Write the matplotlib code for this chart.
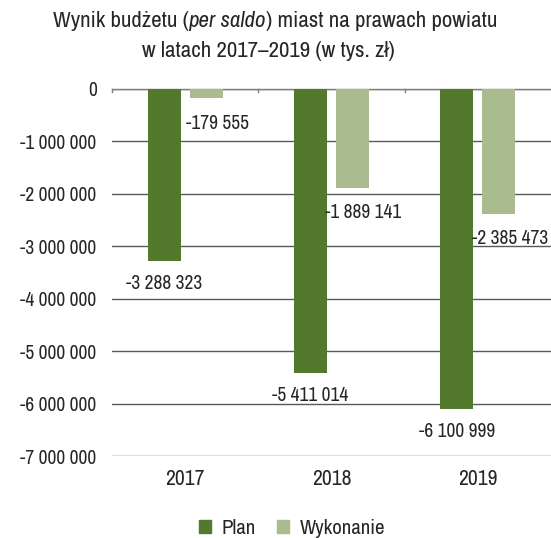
import matplotlib
matplotlib.use("Agg")
import matplotlib.pyplot as plt
from matplotlib.patches import Patch
from matplotlib.transforms import ScaledTranslation
import numpy as np

plt.rcParams['font.family'] = ['Archivo Narrow', 'Liberation Sans', 'DejaVu Sans']

years = ["2017", "2018", "2019"]
plan = [-3288323, -5411014, -6100999]
wykonanie = [-179555, -1889141, -2385473]
series_names = ["Plan", "Wykonanie"]
yticks = [0, -1000000, -2000000, -3000000, -4000000, -5000000, -6000000, -7000000]

c_plan = "#537a2c"
c_wyk = "#a9bb8f"
txt = "#262626"


def fmt(v):
    s = f"{abs(int(v)):,}".replace(",", " ")
    return ("-" if v < 0 else "") + s


W, H = 551, 538
fig = plt.figure(figsize=(W / 100, H / 100), dpi=100)
ax = fig.add_axes([112 / W, 1 - 456 / H, (551 - 112) / W, (456 - 89) / H])

x = np.arange(len(years))
bw = 0.225
off = 0.143
ax.bar(x - off, plan, bw, color=c_plan, zorder=3)
ax.bar(x + off, wykonanie, bw, color=c_wyk, zorder=3)

ax.set_xlim(-0.5, len(years) - 0.5)
ax.set_ylim(-7000000, 0)
ax.set_yticks(yticks)
ax.set_yticklabels([fmt(v) for v in yticks], fontsize=14, color=txt)
ax.tick_params(axis='y', length=0, pad=11)
ax.set_xticks([])
ax.grid(axis='y', color="#595959", linewidth=1.0, zorder=0)
for s in ["left", "right", "bottom"]:
    ax.spines[s].set_visible(False)
ax.spines["top"].set_color("#7f7f7f")
ax.spines["top"].set_linewidth(1.0)

# small category separators on the zero line
for b in [-0.5, 0.5, 1.5]:
    ax.plot([b, b], [0, -60000], color="#7f7f7f", lw=1.0, clip_on=False, zorder=4)

# year labels below the plot
below = ax.transData + ScaledTranslation(0, -13 / 100, fig.dpi_scale_trans)
for i, y in enumerate(years):
    ax.text(i, -7000000, y, ha='center', va='top', fontsize=15.5, color=txt, transform=below)

# value labels
for i in range(len(years)):
    ax.text(i - off, plan[i] - 430000, fmt(plan[i]), ha='center', va='center',
            fontsize=14, color=txt, zorder=5)
    ax.text(i + off + 0.075, wykonanie[i] - 470000, fmt(wykonanie[i]), ha='center', va='center',
            fontsize=14, color=txt, zorder=5)

# title with italic fragment
title_l1 = ["Wynik budżetu (", "per saldo", ") miast na prawach powiatu"]
styles = ["normal", "italic", "normal"]
renderer = fig.canvas.get_renderer()
parts = []
for t, st in zip(title_l1, styles):
    parts.append(fig.text(0, 1 - 21 / H, t, fontsize=16.5, style=st, color=txt, va='center', ha='left'))
widths = [p.get_window_extent(renderer).width for p in parts]
total = sum(widths)
x0 = 275 - total / 2
for p, w in zip(parts, widths):
    p.set_x(x0 / W)
    x0 += w
fig.text(268 / W, 1 - 51 / H, "w latach 2017–2019 (w tys. zł)", fontsize=16.5, color=txt,
         ha='center', va='center')

handles = [Patch(color=c_plan), Patch(color=c_wyk)]
fig.legend(handles, series_names, loc='center', bbox_to_anchor=(292 / W, 1 - 528 / H),
           ncol=2, frameon=False, fontsize=15, handlelength=0.6, handleheight=0.6,
           handletextpad=0.5, columnspacing=1.0, labelcolor=txt)

fig.savefig("out.png", dpi=100)
